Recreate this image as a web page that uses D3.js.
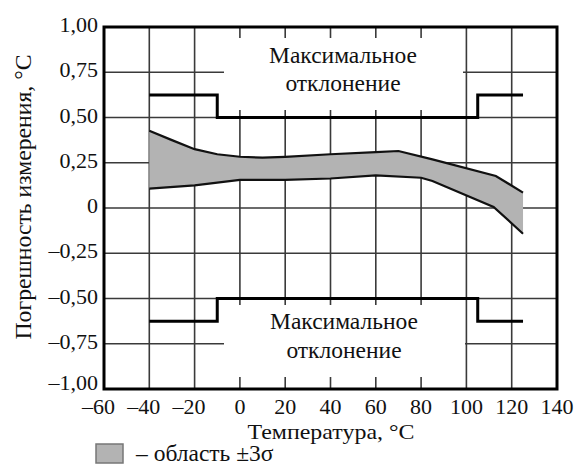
<!DOCTYPE html>
<html><head><meta charset="utf-8">
<script src="https://cdn.jsdelivr.net/npm/d3@7"></script>
<style>body{margin:0;background:#fff}svg{display:block}</style>
</head><body>
<script>
const xTicks = [-60,-40,-20,0,20,40,60,80,100,120,140];
const yTicks = [-1,-0.75,-0.5,-0.25,0,0.25,0.5,0.75,1];
const yTickLabels = ["\u20131,00","\u20130,75","\u20130,50","\u20130,25","0","0,25","0,50","0,75","1,00"];
const xTickLabels = ["\u201360","\u201340","\u201320","0","20","40","60","80","100","120","140"];
// upper / lower bounds of ±3σ band
const upperT = [-40,-30,-20,-10,0,10,20,40,60,70,85,113,125];
const upperV = [0.427,0.375,0.325,0.297,0.283,0.278,0.283,0.297,0.309,0.315,0.269,0.177,0.085];
const lowerT = [-40,-20,0,20,40,60,80,85,112,125];
const lowerV = [0.107,0.125,0.155,0.155,0.163,0.18,0.167,0.149,0.006,-0.142];
// maximum deviation limits
const limitT = [-40,-10,-10,105,105,125];
const limitHi = [0.625,0.625,0.5,0.5,0.625,0.625];
const limitLo = [-0.625,-0.625,-0.5,-0.5,-0.625,-0.625];

const W=575,H=466;
const FF="Liberation Serif";
const x=d3.scaleLinear().domain([-60,140]).range([104,557]);
const y=d3.scaleLinear().domain([-1,1]).range([389,27]);
const svg=d3.select("body").append("svg").attr("width",W).attr("height",H);

// grid
svg.append("g").selectAll("line").data(xTicks.slice(1,-1)).join("line")
  .attr("x1",d=>x(d)).attr("x2",d=>x(d)).attr("y1",y(1)).attr("y2",y(-1))
  .attr("stroke","#3a3a3a").attr("stroke-width",1.6);
svg.append("g").selectAll("line").data(yTicks.slice(1,-1)).join("line")
  .attr("y1",d=>y(d)).attr("y2",d=>y(d)).attr("x1",x(-60)).attr("x2",x(140))
  .attr("stroke","#3a3a3a").attr("stroke-width",1.6);

// white label boxes
svg.append("rect").attr("x",224).attr("y",38).attr("width",239).attr("height",72).attr("fill","#fff");
svg.append("rect").attr("x",224).attr("y",305).attr("width",241).attr("height",72).attr("fill","#fff");

// band
const band=upperT.map((t,i)=>[t,upperV[i]]).concat(lowerT.map((t,i)=>[t,lowerV[i]]).reverse());
const ln=d3.line().x(d=>x(d[0])).y(d=>y(d[1]));
svg.append("path").attr("d",ln(band)+"Z").attr("fill","#b3b3b3").attr("stroke","none");
svg.append("path").attr("d",ln(upperT.map((t,i)=>[t,upperV[i]]))).attr("fill","none").attr("stroke","#111").attr("stroke-width",2.2);
svg.append("path").attr("d",ln(lowerT.map((t,i)=>[t,lowerV[i]]))).attr("fill","none").attr("stroke","#111").attr("stroke-width",2.2);

// limits
svg.append("path").attr("d",ln(limitT.map((t,i)=>[t,limitHi[i]]))).attr("fill","none").attr("stroke","#000").attr("stroke-width",3);
svg.append("path").attr("d",ln(limitT.map((t,i)=>[t,limitLo[i]]))).attr("fill","none").attr("stroke","#000").attr("stroke-width",3);

// frame
svg.append("rect").attr("x",x(-60)).attr("y",y(1)).attr("width",x(140)-x(-60)).attr("height",y(-1)-y(1))
  .attr("fill","none").attr("stroke","#000").attr("stroke-width",3);

function T(sel,fs){return sel.attr("font-family",FF).attr("font-size",fs||22).attr("fill","#111");}
// box texts
const bf=23.5;
T(svg.append("text"),bf).attr("x",343).attr("y",63).attr("text-anchor","middle").text("Максимальное");
T(svg.append("text"),bf).attr("x",343).attr("y",91).attr("text-anchor","middle").text("отклонение");
T(svg.append("text"),bf).attr("x",344).attr("y",329).attr("text-anchor","middle").text("Максимальное");
T(svg.append("text"),bf).attr("x",344).attr("y",358).attr("text-anchor","middle").text("отклонение");

// tick labels
T(svg.append("g").selectAll("text").data(yTicks).join("text"))
  .attr("x",98).attr("y",d=>y(d)+(d===-1?0.5:5)).attr("text-anchor","end")
  .text((d,i)=>yTickLabels[i]);
T(svg.append("g").selectAll("text").data(xTicks).join("text"))
  .attr("x",d=>x(d)+(d<0?-5.5:0)).attr("y",414).attr("text-anchor","middle")
  .text((d,i)=>xTickLabels[i]);

// axis titles
T(svg.append("text"),23).attr("transform","translate(31,197) rotate(-90)").attr("text-anchor","middle")
  .attr("textLength",285).attr("lengthAdjust","spacingAndGlyphs").text("Погрешность измерения, °C");
T(svg.append("text"),22).attr("x",331).attr("y",439).attr("text-anchor","middle")
  .attr("textLength",167).attr("lengthAdjust","spacingAndGlyphs").text("Температура, °C");

// legend
svg.append("rect").attr("x",96).attr("y",444).attr("width",27).attr("height",19).attr("fill","#b3b3b3").attr("stroke","#777").attr("stroke-width",1.5);
T(svg.append("text"),23.5).attr("x",136).attr("y",461).text("– область ±3σ");
</script>
</body></html>
